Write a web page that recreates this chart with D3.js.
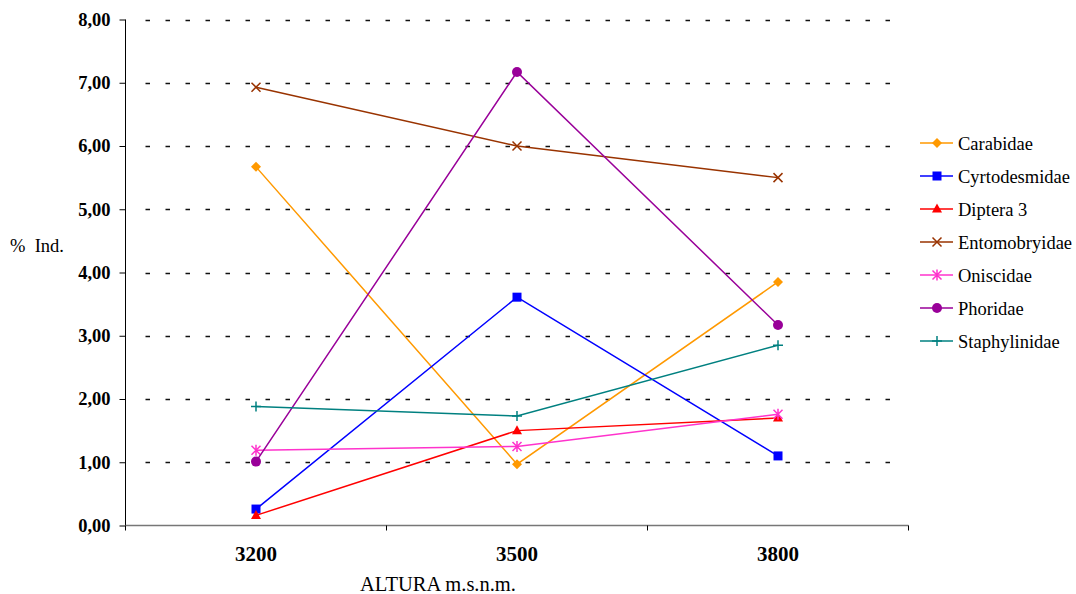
<!DOCTYPE html>
<html><head><meta charset="utf-8">
<script src="https://cdn.jsdelivr.net/npm/d3@7"></script>
<style>body{margin:0;background:#fff}svg{display:block}svg text{font-family:"Liberation Serif","Times New Roman","DejaVu Serif",serif !important}</style>
</head><body><svg id="c" width="1076" height="594"></svg>
<script>
const categories = ["3200", "3500", "3800"];
const seriesNames = ["Carabidae", "Cyrtodesmidae", "Diptera 3", "Entomobryidae", "Oniscidae", "Phoridae", "Staphylinidae"];
const carabidae = [5.67, 0.97, 3.85];
const cyrtodesmidae = [0.26, 3.61, 1.10];
const diptera3 = [0.16, 1.50, 1.70];
const entomobryidae = [6.93, 6.00, 5.50];
const oniscidae = [1.19, 1.25, 1.76];
const phoridae = [1.01, 7.17, 3.17];
const staphylinidae = [1.88, 1.73, 2.85];
const yTicks = [0, 1, 2, 3, 4, 5, 6, 7, 8];
const colors = ["#FF9900", "#0000FF", "#FF0000", "#993300", "#FF33CC", "#990099", "#008080"];
const markers = ["diamond", "square", "triangle", "x", "asterisk", "circle", "plus"];
const seriesValues = [carabidae, cyrtodesmidae, diptera3, entomobryidae, oniscidae, phoridae, staphylinidae];

const svg = d3.select("#c");
const x = d3.scaleBand().domain(categories).range([125.5, 908.5]).padding(0);
const y = d3.scaleLinear().domain([0, 8]).range([525.5, 19.5]);
const fmt = v => v.toFixed(2).replace(".", ",");

// gridlines
svg.append("g").selectAll("line").data(yTicks.filter(d => d > 0)).join("line")
  .attr("x1", x.range()[0] + 20).attr("x2", x.range()[1] - 10)
  .attr("y1", d => Math.round(y(d)) + 0.5).attr("y2", d => Math.round(y(d)) + 0.5)
  .attr("stroke", "#111").attr("stroke-width", 1.3).attr("stroke-dasharray", "4.5,15.5");

// y axis
const yAxis = svg.append("g").attr("transform", `translate(${x.range()[0]},0)`)
  .call(d3.axisLeft(y).tickValues(yTicks).tickFormat(fmt).tickSize(6).tickPadding(9));
yAxis.select(".domain").attr("stroke", "#000").attr("d", `M0,${y(8)}V${y(0)}`);
yAxis.selectAll(".tick line").attr("stroke", "#000");
yAxis.selectAll("text").attr("font-weight", "bold")
  .attr("font-size", 18.5).attr("fill", "#000");

// x axis
const xg = svg.append("g").attr("transform", `translate(0,${y(0)})`);
xg.append("line").attr("x1", x.range()[0]).attr("x2", x.range()[1])
  .attr("stroke", "#777").attr("stroke-width", 1.6);
const bounds = categories.map(c => x(c)).concat([x.range()[1]]);
xg.selectAll(".bt").data(bounds).join("line").attr("class", "bt")
  .attr("x1", d => d).attr("x2", d => d).attr("y1", 0).attr("y2", 5).attr("stroke", "#000");
xg.selectAll(".lab").data(categories).join("text").attr("class", "lab")
  .attr("x", d => x(d) + x.bandwidth() / 2).attr("y", 35)
  .attr("text-anchor", "middle").attr("font-weight", "bold")
  .attr("font-size", 21).text(d => d);

// axis titles
svg.append("text").attr("x", 438).attr("y", 591).attr("text-anchor", "middle")
  .attr("font-size", 20.5).text("ALTURA m.s.n.m.");
svg.append("text").attr("x", 10).attr("y", 252)
  .attr("font-size", 18.5).style("white-space", "pre").text("%  Ind.");

function marker(g, type, color) {
  switch (type) {
    case "diamond": g.append("path").attr("d", "M0,-5L5,0L0,5L-5,0Z").attr("fill", color); break;
    case "square": g.append("rect").attr("x", -4.5).attr("y", -4.5).attr("width", 9).attr("height", 9).attr("fill", color); break;
    case "triangle": g.append("path").attr("d", "M0,-5.5L5,3.5L-5,3.5Z").attr("fill", color); break;
    case "x": g.append("path").attr("d", "M-4.5,-4.5L4.5,4.5M-4.5,4.5L4.5,-4.5").attr("stroke", color).attr("stroke-width", 1.5).attr("fill", "none"); break;
    case "asterisk": g.append("path").attr("d", "M-4.5,-4.5L4.5,4.5M-4.5,4.5L4.5,-4.5M0,-5.5L0,5.5").attr("stroke", color).attr("stroke-width", 1.5).attr("fill", "none"); break;
    case "circle": g.append("circle").attr("r", 5).attr("fill", color); break;
    case "plus": g.append("path").attr("d", "M-5,0L5,0M0,-5L0,5").attr("stroke", color).attr("stroke-width", 1.5).attr("fill", "none"); break;
  }
}

const line = d3.line().x((d, i) => x(categories[i]) + x.bandwidth() / 2).y(d => y(d));
seriesValues.forEach((vals, s) => {
  const g = svg.append("g");
  g.append("path").datum(vals).attr("d", line).attr("fill", "none")
    .attr("stroke", colors[s]).attr("stroke-width", 1.5);
  vals.forEach((v, i) => {
    const m = g.append("g").attr("transform", `translate(${x(categories[i]) + x.bandwidth() / 2},${y(v)})`);
    marker(m, markers[s], colors[s]);
  });
});

// legend
const lg = svg.append("g").attr("transform", "translate(920,143)");
seriesNames.forEach((n, s) => {
  const r = lg.append("g").attr("transform", `translate(0,${s * 33})`);
  r.append("line").attr("x1", 0).attr("x2", 33).attr("stroke", colors[s]).attr("stroke-width", 1.5);
  const m = r.append("g").attr("transform", "translate(17,0)");
  marker(m, markers[s], colors[s]);
  r.append("text").attr("x", 38).attr("y", 6.5)
    .attr("font-size", 18.5).text(n);
});
</script></body></html>
